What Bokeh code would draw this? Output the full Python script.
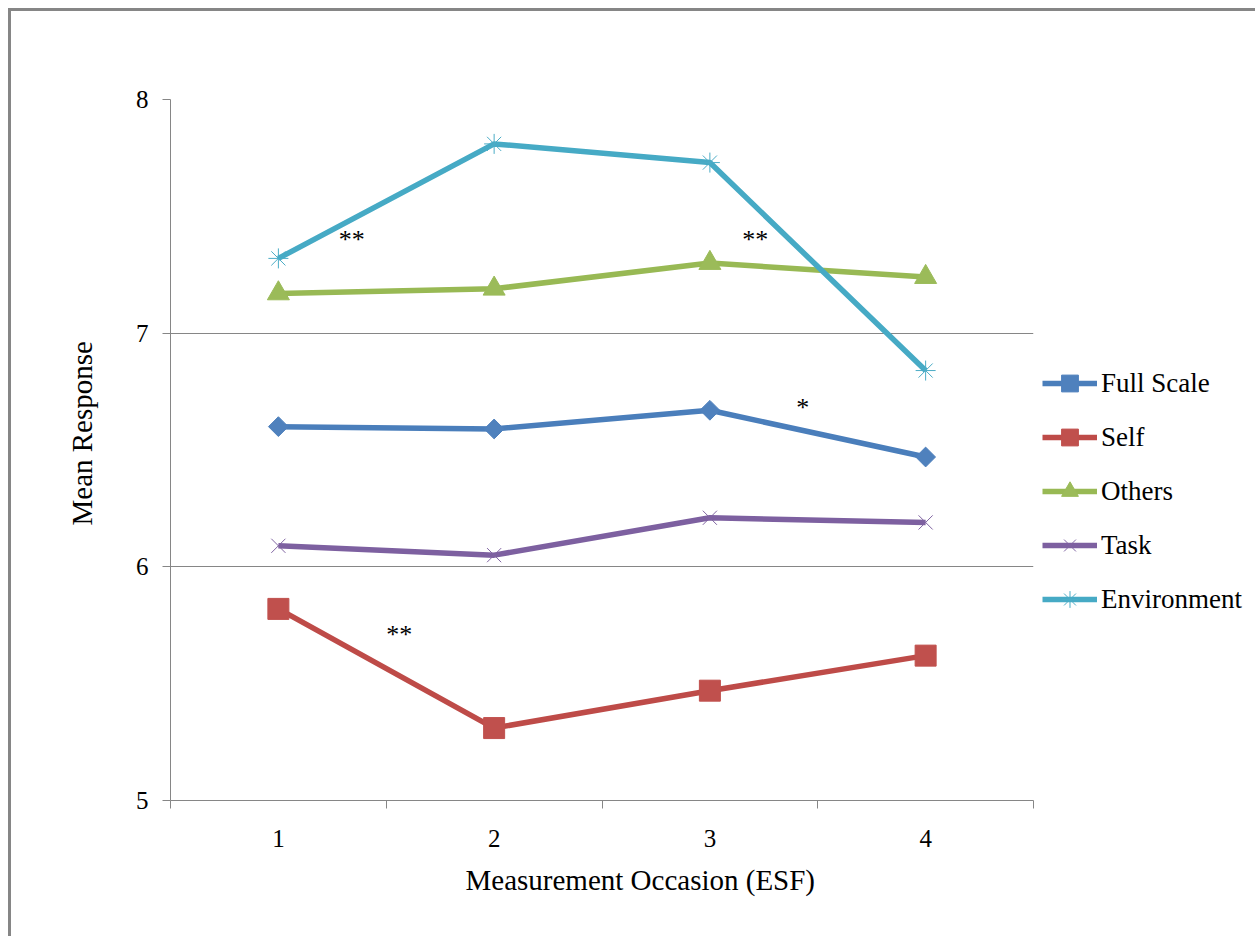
import numpy as np
from bokeh.plotting import figure
from bokeh.models import FixedTicker, Legend, ColumnDataSource, Title
from bokeh.core.properties import value
from bokeh.embed import file_html
from bokeh.resources import INLINE

# ---- data ----
occasions = [1, 2, 3, 4]
occasion_labels = ["1", "2", "3", "4"]
full_scale = [6.60, 6.59, 6.67, 6.47]
self_scores = [5.82, 5.31, 5.47, 5.62]
others = [7.17, 7.19, 7.30, 7.24]
task = [6.09, 6.05, 6.21, 6.19]
environment = [7.32, 7.81, 7.73, 6.84]
y_ticks = [5, 6, 7, 8]
x_title = "Measurement Occasion (ESF)"
y_title = "Mean Response"

# significance markers (text, x, y in data units)
sig_text = ["**", "**", "*", "**"]
sig_x = [1.34, 3.21, 3.43, 1.56]
sig_y = [7.41, 7.41, 6.69, 5.72]

FONT = "Liberation Serif"
GRAY = "#868686"

p = figure(
    frame_width=863, frame_height=701,
    min_border_left=159, min_border_right=214,
    min_border_top=88, min_border_bottom=136,
    x_range=(0.5, 4.5), y_range=(5, 8),
    output_backend="svg", toolbar_location=None,
)
p.styles = {
    "margin-left": "8px", "margin-top": "8px",
    "border-left": f"3px solid {GRAY}", "border-top": f"3px solid {GRAY}",
}
p.outline_line_color = None
p.background_fill_color = "white"
p.border_fill_color = "white"

# axes
p.xaxis.ticker = FixedTicker(ticks=occasions, minor_ticks=[0.5, 1.5, 2.5, 3.5, 4.5])
p.xaxis.major_label_overrides = {o: l for o, l in zip(occasions, occasion_labels)}
p.xaxis.major_tick_out = 0
p.xaxis.major_tick_in = 0
p.xaxis.minor_tick_out = 8
p.xaxis.minor_tick_in = 0
p.xaxis.minor_tick_line_color = GRAY
p.xaxis.major_label_standoff = 21

p.yaxis.ticker = FixedTicker(ticks=y_ticks, minor_ticks=[])
p.yaxis.major_tick_out = 8
p.yaxis.major_tick_in = 0
p.yaxis.major_label_standoff = 14

for ax in (p.xaxis[0], p.yaxis[0]):
    ax.axis_line_color = GRAY
    ax.major_tick_line_color = GRAY
    ax.major_label_text_font = FONT
    ax.major_label_text_font_size = "25px"
    ax.major_label_text_color = "black"

# axis titles (offset like the original)
xt = Title(text=x_title, align="left", offset=295, vertical_align="top",
           text_font=FONT, text_font_size="29px", text_font_style="normal",
           text_color="black", standoff=28)
p.add_layout(xt, "below")
yt = Title(text=y_title, align="left", offset=275, vertical_align="middle",
           text_font=FONT, text_font_size="29px", text_font_style="normal",
           text_color="black", standoff=67)
p.add_layout(yt, "left")

p.xgrid.grid_line_color = None
p.ygrid.grid_line_color = GRAY
p.ygrid.grid_line_width = 1

series = [
    ("Full Scale", full_scale, "#4A7EBB", "#4F81BD", "square", 14, np.pi / 4),
    ("Self", self_scores, "#BE4B48", "#C0504D", "square", 21, 0),
    ("Others", others, "#98B954", "#9BBB59", "triangle", 22, 0),
    ("Task", task, "#7D60A0", "#8064A2", "x", 20, 0),
    ("Environment", environment, "#46AAC5", "#4BACC6", "asterisk", 20, 0),
]

items = []
for name, vals, lc, mc, marker, size, angle in series:
    src = ColumnDataSource(dict(x=occasions, y=vals))
    r1 = p.line("x", "y", source=src, line_color=lc, line_width=5.5)
    r2 = p.scatter("x", "y", source=src, marker=marker, size=size, angle=angle,
                   fill_color=mc, line_color=mc, line_width=1)
    items.append((name, [r1, r2]))

legend = Legend(items=items, location=(9, 180))
legend.label_text_font = FONT
legend.label_text_font_size = "27px"
legend.label_text_color = "black"
legend.glyph_width = 55
legend.glyph_height = 42
legend.label_height = 42
legend.label_standoff = 4
legend.spacing = 12
legend.padding = 0
legend.margin = 0
legend.border_line_color = None
legend.background_fill_alpha = 0
p.add_layout(legend, "right")

src_sig = ColumnDataSource(dict(x=sig_x, y=sig_y, t=sig_text))
p.text("x", "y", text="t", source=src_sig, text_font=value(FONT),
       text_font_size="26px", text_align="center", text_baseline="middle",
       y_offset=2, text_color="black")

open("out.html", "w").write(file_html(p, INLINE))
